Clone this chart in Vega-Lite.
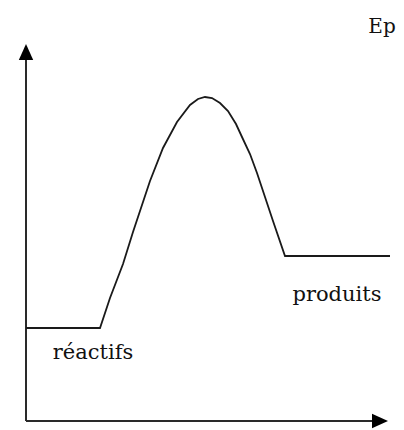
{
  "$schema": "https://vega.github.io/schema/vega-lite/v6.json",
  "width": 404,
  "height": 430,
  "padding": 0,
  "autosize": {"type": "fit", "contains": "padding"},
  "background": "white",
  "config": {"view": {"stroke": null}},
  "datasets": {
    "curve": [
      {"coord": 26, "ep": 102},
      {"coord": 100, "ep": 102},
      {"coord": 110, "ep": 132},
      {"coord": 123, "ep": 166},
      {"coord": 133, "ep": 198},
      {"coord": 143, "ep": 228},
      {"coord": 150, "ep": 249},
      {"coord": 163, "ep": 282},
      {"coord": 177, "ep": 308},
      {"coord": 190, "ep": 325},
      {"coord": 198, "ep": 331},
      {"coord": 205, "ep": 333},
      {"coord": 212, "ep": 332},
      {"coord": 220, "ep": 327},
      {"coord": 228, "ep": 319},
      {"coord": 236, "ep": 306},
      {"coord": 242, "ep": 293},
      {"coord": 250, "ep": 276},
      {"coord": 257, "ep": 257},
      {"coord": 265, "ep": 233},
      {"coord": 273, "ep": 209},
      {"coord": 285, "ep": 174},
      {"coord": 390, "ep": 174}
    ],
    "axes": [
      {"x1": 26, "x2": 26, "y1": 9, "y2": 372},
      {"x1": 26, "x2": 374, "y1": 9, "y2": 9}
    ],
    "arrows": [
      {"x": 26, "y": 378, "dir": "up"},
      {"x": 380, "y": 9, "dir": "right"}
    ],
    "labels": [
      {"x": 382, "y": 397, "label": "Ep", "size": 20},
      {"x": 337, "y": 129, "label": "produits", "size": 21},
      {"x": 93, "y": 71, "label": "réactifs", "size": 21}
    ]
  },
  "layer": [
    {
      "data": {"name": "axes"},
      "mark": {"type": "rule", "color": "#2a2a2a", "strokeWidth": 2},
      "encoding": {
        "x": {"field": "x1", "type": "quantitative", "scale": {"domain": [0, 404], "nice": false, "zero": false}, "axis": null},
        "x2": {"field": "x2"},
        "y": {"field": "y1", "type": "quantitative", "scale": {"domain": [0, 430], "nice": false, "zero": false}, "axis": null},
        "y2": {"field": "y2"}
      }
    },
    {
      "data": {"name": "arrows"},
      "transform": [{"filter": "datum.dir === 'up'"}],
      "mark": {"type": "point", "shape": "M -0.9 1 L 0 -1 L 0.9 1 Z", "size": 256, "filled": true, "color": "#000", "opacity": 1},
      "encoding": {
        "x": {"field": "x", "type": "quantitative", "scale": {"domain": [0, 404], "nice": false, "zero": false}, "axis": null},
        "y": {"field": "y", "type": "quantitative", "scale": {"domain": [0, 430], "nice": false, "zero": false}, "axis": null}
      }
    },
    {
      "data": {"name": "arrows"},
      "transform": [{"filter": "datum.dir === 'right'"}],
      "mark": {"type": "point", "shape": "M -1 -0.9 L 1 0 L -1 0.9 Z", "size": 256, "filled": true, "color": "#000", "opacity": 1},
      "encoding": {
        "x": {"field": "x", "type": "quantitative", "scale": {"domain": [0, 404], "nice": false, "zero": false}, "axis": null},
        "y": {"field": "y", "type": "quantitative", "scale": {"domain": [0, 430], "nice": false, "zero": false}, "axis": null}
      }
    },
    {
      "data": {"name": "curve"},
      "mark": {"type": "line", "color": "#1a1a1a", "strokeWidth": 1.8, "interpolate": "linear"},
      "encoding": {
        "x": {"field": "coord", "type": "quantitative", "scale": {"domain": [0, 404], "nice": false, "zero": false}, "axis": null},
        "y": {"field": "ep", "type": "quantitative", "scale": {"domain": [0, 430], "nice": false, "zero": false}, "axis": null}
      }
    },
    {
      "data": {"name": "labels"},
      "mark": {"type": "text", "font": "DejaVu Serif", "color": "#111", "align": "center", "baseline": "alphabetic"},
      "encoding": {
        "x": {"field": "x", "type": "quantitative", "scale": {"domain": [0, 404], "nice": false, "zero": false}, "axis": null},
        "y": {"field": "y", "type": "quantitative", "scale": {"domain": [0, 430], "nice": false, "zero": false}, "axis": null},
        "text": {"field": "label"},
        "size": {"field": "size", "type": "quantitative", "scale": null}
      }
    }
  ]
}
